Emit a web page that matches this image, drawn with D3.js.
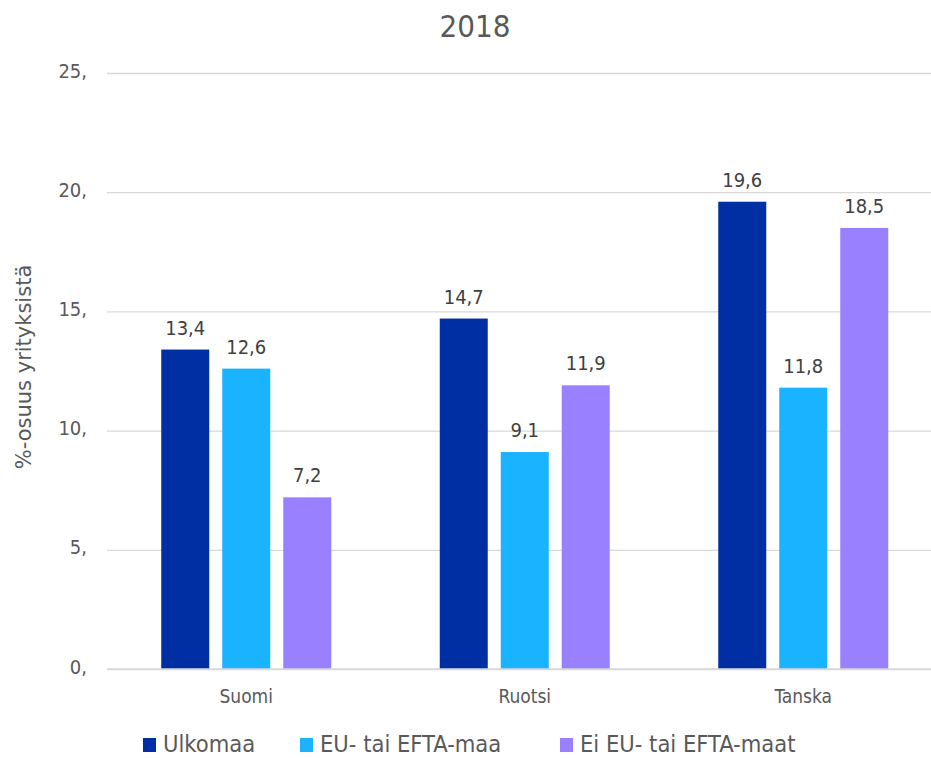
<!DOCTYPE html>
<html>
<head>
<meta charset="utf-8">
<script src="https://cdn.jsdelivr.net/npm/d3@7"></script>
<style>
  body { margin: 0; background: #fff; }
  svg text { font-family: "DejaVu Sans Condensed", "DejaVu Sans", sans-serif; }
</style>
</head>
<body>
<div class="chart"></div>
<script>
// Chart data
const categories = ["Suomi", "Ruotsi", "Tanska"];
const seriesNames = ["Ulkomaa", "EU- tai EFTA-maa", "Ei EU- tai EFTA-maat"];
const ulkomaa = [13.4, 14.7, 19.6];
const euEfta = [12.6, 9.1, 11.8];
const eiEuEfta = [7.2, 11.9, 18.5];
const yTicks = [0, 5, 10, 15, 20, 25];
const colors = ["#002FA3", "#1AB3FF", "#9980FF"];

const seriesValues = [ulkomaa, euEfta, eiEuEfta];

const width = 931, height = 758;
const svg = d3.select(".chart").append("svg")
  .attr("width", width)
  .attr("height", height);

// Scales
const x0 = d3.scaleBand()
  .domain(categories)
  .range([107, 942.5]);

const x1 = d3.scaleBand()
  .domain(seriesNames)
  .range([0, 170])
  .paddingInner(13 / 61);

const y = d3.scaleLinear()
  .domain([0, 25])
  .range([669, 73]);

// Title
svg.append("text")
  .attr("x", 475)
  .attr("y", 37)
  .attr("text-anchor", "middle")
  .attr("fill", "#595959")
  .style("font-size", "31px")
  .text("2018");

// Gridlines and y tick labels
const yAxis = svg.append("g")
  .attr("transform", "translate(107,0)")
  .call(d3.axisLeft(y).tickValues(yTicks).tickSize(-(931 - 107)).tickPadding(20)
    .tickFormat(d => d + ","));
yAxis.select(".domain").remove();
yAxis.selectAll(".tick line").attr("stroke", "#d9d9d9").attr("stroke-width", 1.3);
yAxis.selectAll(".tick text")
  .attr("fill", "#595959")
  .attr("dy", "0.2em")
  .style("font-size", "20px");

// Y axis title
svg.append("text")
  .attr("transform", "translate(31,367) rotate(-90)")
  .attr("text-anchor", "middle")
  .attr("fill", "#595959")
  .style("font-family", "'DejaVu Sans', sans-serif")
  .style("font-size", "21px")
  .text("%-osuus yrityksistä");

// Bars
const groups = svg.append("g").selectAll("g")
  .data(categories)
  .join("g")
  .attr("transform", d => `translate(${x0(d) + x0.bandwidth() / 2 - 85},0)`);

groups.selectAll("rect")
  .data((d, i) => seriesNames.map((s, j) => ({ key: s, value: seriesValues[j][i], color: colors[j] })))
  .join("rect")
  .attr("x", d => x1(d.key))
  .attr("y", d => y(d.value))
  .attr("width", x1.bandwidth())
  .attr("height", d => y(0) - y(d.value))
  .attr("fill", d => d.color);

// Value labels
groups.selectAll("text")
  .data((d, i) => seriesNames.map((s, j) => ({ key: s, value: seriesValues[j][i] })))
  .join("text")
  .attr("x", d => x1(d.key) + x1.bandwidth() / 2)
  .attr("y", d => y(d.value) - 15)
  .attr("text-anchor", "middle")
  .attr("fill", "#404040")
  .style("font-size", "20px")
  .text(d => d.value.toFixed(1).replace(".", ","));

// Baseline
svg.append("line")
  .attr("x1", 107).attr("x2", 931)
  .attr("y1", y(0)).attr("y2", y(0))
  .attr("stroke", "#d9d9d9")
  .attr("stroke-width", 1.3);

// Category labels
svg.append("g").selectAll("text")
  .data(categories)
  .join("text")
  .attr("x", d => x0(d) + x0.bandwidth() / 2)
  .attr("y", 703)
  .attr("text-anchor", "middle")
  .attr("fill", "#595959")
  .style("font-size", "19px")
  .text(d => d);

// Legend
const legendX = [143, 300, 560];
const legend = svg.append("g").selectAll("g")
  .data(seriesNames)
  .join("g")
  .attr("transform", (d, i) => `translate(${legendX[i]},0)`);

legend.append("rect")
  .attr("x", 0).attr("y", 738)
  .attr("width", 13).attr("height", 14)
  .attr("fill", (d, i) => colors[i]);

legend.append("text")
  .attr("x", 20)
  .attr("y", 752)
  .attr("fill", "#595959")
  .style("font-size", "23.5px")
  .text(d => d);
</script>
</body>
</html>
